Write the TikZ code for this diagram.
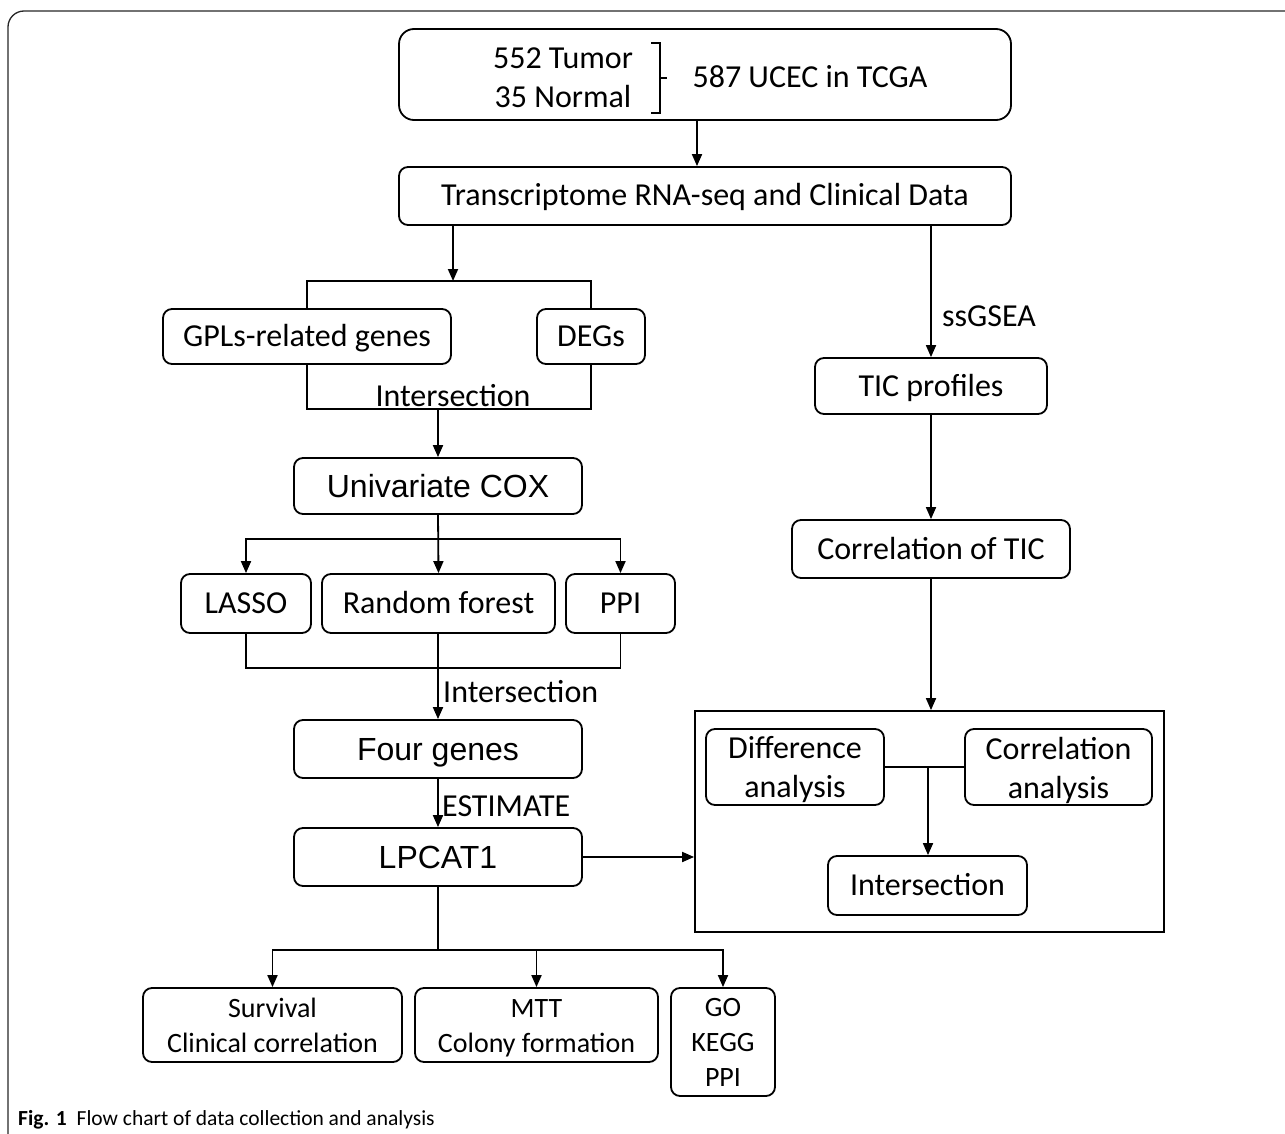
\documentclass[tikz,border=0pt]{standalone}
\usepackage{fontspec}
\setmainfont{Carlito}
\newfontfamily\arialfam{Liberation Sans}
\usetikzlibrary{arrows.meta}
\begin{document}
\begin{tikzpicture}[x=1pt,y=-1pt,
  box/.style={draw, line width=1.8pt, rounded corners=9pt, inner sep=0pt, align=center, font=\fontsize{32}{35}\selectfont},
  one/.style={box, text height=20pt, text depth=0pt},
  abox/.style={box, font=\arialfam\fontsize{32}{36}\selectfont, text height=22.5pt, text depth=0pt},
  sbox/.style={box, font=\fontsize{28}{35}\selectfont},
  ln/.style={line width=1.8pt},
  arr/.style={ln, -{Triangle[length=12pt,width=10pt]}},
  lbl/.style={font=\fontsize{32}{36}\selectfont, inner sep=0pt},
  two/.style={font=\fontsize{32}{39}\selectfont, inner sep=0pt, align=center}]
\useasboundingbox (0,0) rectangle (1285,1134);
% frame
\draw[line width=1.3pt, black!85, rounded corners=16pt] (8,1134) -- (8,11) -- (1285,11);
% left column
\node[box, rounded corners=15pt, minimum width=612, minimum height=91] (top) at (705,74.5) {};
\node[lbl] (t1) at (563,58) {552 Tumor};
\node[lbl] (t2) at (563,97) {35 Normal};
\node[lbl] (t3) at (810,77) {587 UCEC in TCGA};
\draw[line width=1.6pt] (651,43) -- (660,43) -- (660,113) -- (651,113);
\draw[line width=1.6pt] (660,78) -- (667,78);
\node[one, minimum width=612, minimum height=58] (tr) at (705,196) {Transcriptome RNA-seq and Clinical Data};
\node[one, minimum width=288, minimum height=55] (gpl) at (307,336.5) {GPLs-related genes};
\node[one, minimum width=108, minimum height=55] (deg) at (591,336.5) {DEGs};
\node[abox, minimum width=288, minimum height=56] (uni) at (438,486) {Univariate COX};
\node[one, minimum width=130, minimum height=59] (lasso) at (246,603.5) {LASSO};
\node[one, minimum width=233, minimum height=59] (rf) at (438.5,603.5) {Random forest};
\node[one, minimum width=109, minimum height=59] (ppi) at (620.5,603.5) {PPI};
\node[abox, minimum width=288, minimum height=58] (four) at (438,749) {Four genes};
\node[abox, minimum width=288, minimum height=58] (lp) at (438,857) {LPCAT1};
\node[sbox, minimum width=259, minimum height=74] (surv) at (272.5,1025) {Survival\\Clinical correlation};
\node[sbox, minimum width=243, minimum height=74] (mtt) at (536.5,1025) {\strut MTT\\Colony formation};
\node[sbox, minimum width=104, minimum height=108] (go) at (723,1042) {GO\\KEGG\\PPI};
% right column
\node[one, minimum width=232, minimum height=56] (tic) at (931,386) {TIC profiles};
\node[one, minimum width=278, minimum height=58] (ctic) at (931,549) {Correlation of TIC};
\node[draw, line width=1.8pt, minimum width=469, minimum height=221, inner sep=0pt] (big) at (929.5,821.5) {};
\node[box, minimum width=178, minimum height=76] (diff) at (795,767) {};
\node[two] (difft) at (795,770) {Difference\\analysis};
\node[box, minimum width=187, minimum height=76] (corra) at (1058.5,767) {};
\node[two] (corrat) at (1058.5,770) {Correlation\\analysis};
\node[one, minimum width=199, minimum height=59] (inter) at (927.5,885.5) {Intersection};
% connectors
\coordinate (c1) at (697,0);
\draw[arr] (top.south -| c1) -- (tr.north -| c1);
\coordinate (b1) at (453,281);
\draw[arr] (tr.south -| b1) -- (b1);
\draw[ln] (gpl.north) -- (gpl.north |- b1) -- (deg.north |- b1) -- (deg.north);
\coordinate (i1) at (438,409);
\draw[ln] (gpl.south) -- (gpl.south |- i1) -- (deg.south |- i1) -- (deg.south);
\node[lbl] (il1) at (453,396) {Intersection};
\draw[arr] (i1) -- (uni.north -| i1);
\coordinate (b2) at (438,539);
\draw[arr] (uni.south) -- (rf.north);
\draw[arr] (b2) -| (lasso.north);
\draw[arr] (b2) -| (ppi.north);
\coordinate (i2) at (438,668);
\draw[ln] (lasso.south) |- (i2) -| (ppi.south);
\draw[arr] (rf.south -| i2) -- (four.north);
\node[lbl, anchor=west] (il2) at (443,692) {Intersection};
\draw[arr] (four.south) -- (lp.north);
\node[lbl, anchor=west] (est) at (442,806) {ESTIMATE};
\draw[arr] (lp.east) -- (lp.east -| big.west);
\coordinate (b3) at (438,950);
\draw[ln] (lp.south) -- (b3);
\draw[arr] (b3) -| (surv.north);
\draw[arr] (b3) -| (go.north);
\draw[arr] (mtt.north |- b3) -- (mtt.north);
\coordinate (c2) at (931,0);
\draw[arr] (tr.south -| c2) -- (tic.north);
\node[lbl, anchor=west] (ss) at (942,316) {ssGSEA};
\draw[arr] (tic.south) -- (ctic.north);
\draw[arr] (ctic.south) -- (ctic.south |- big.north);
\draw[ln] (diff.east) -- (corra.west);
\coordinate (j) at (928,767);
\draw[arr] (j) -- (inter.north -| j);
% caption
\node[anchor=base west, inner sep=0pt, font=\fontsize{21.5}{24}\selectfont] (cap) at (18,1125) {\textbf{Fig. 1}\hspace{10pt}Flow chart of data collection and analysis};
\end{tikzpicture}
\end{document}
